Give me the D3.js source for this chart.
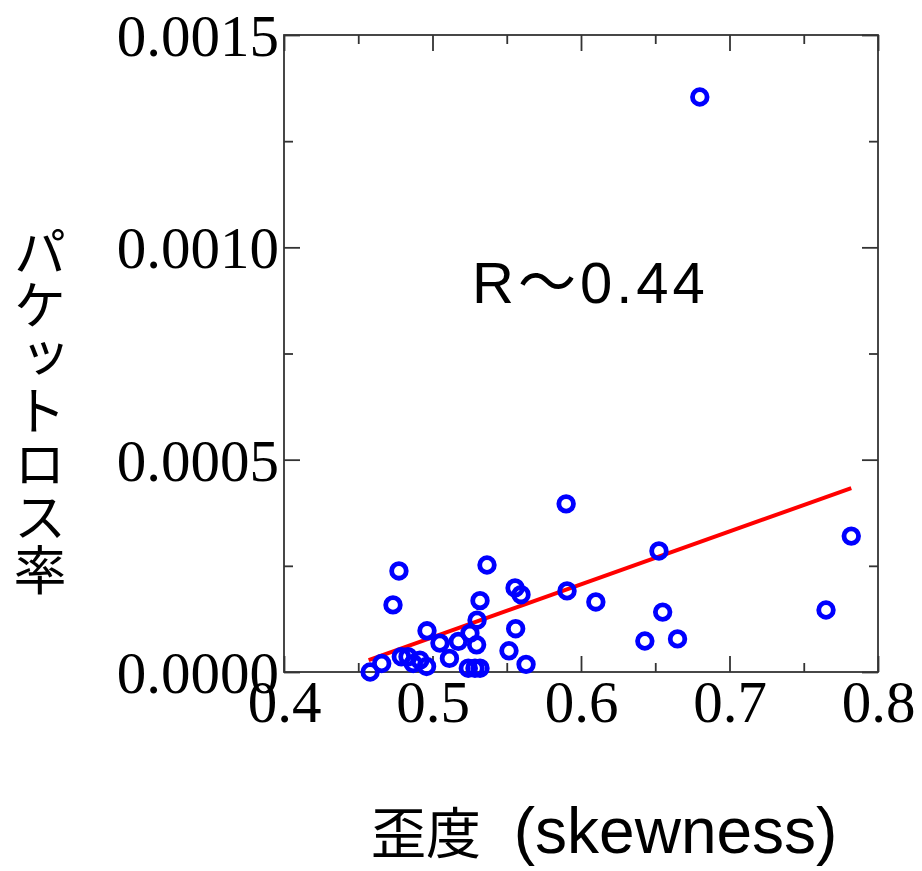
<!DOCTYPE html>
<html>
<head>
<meta charset="utf-8">
<script src="https://cdn.jsdelivr.net/npm/d3@7"></script>
<style>
  body { margin: 0; background: #fff; }
</style>
</head>
<body>
<div id="chart"></div>
<script>

// skewness vs packet loss
let skewX = [0.680, 0.590, 0.782, 0.6525, 0.4774, 0.5367, 0.5556, 0.5596, 0.5906, 0.4734,
             0.532, 0.610, 0.655, 0.765, 0.643, 0.665, 0.556, 0.4963, 0.5515, 0.563,
             0.458, 0.530, 0.5174, 0.5297, 0.5252, 0.505, 0.5114, 0.5241, 0.5286, 0.532,
             0.4658, 0.479, 0.4835, 0.487, 0.4915, 0.496]
let lossY = [0.001354, 0.000396, 0.000320, 0.000285, 0.000238, 0.000252, 0.000198, 0.000182, 0.000191, 0.000158,
             0.000168, 0.000165, 0.000141, 0.000146, 0.000073, 0.000078, 0.000102, 0.000097, 0.000050, 0.000018,
             0.000000, 0.000122, 0.000072, 0.000064, 0.000091, 0.000068, 0.000032, 0.000009, 0.000009, 0.000009,
             0.000020, 0.000036, 0.000036, 0.000020, 0.000028, 0.000013]

// fitted line ends
let trendX = [0.457, 0.782]
let trendY = [0.000028, 0.000433]

let xMajor = [0.4, 0.5, 0.6, 0.7, 0.8]
let xMinor = [0.45, 0.55, 0.65, 0.75]
let yMajor = [0, 0.0005, 0.0010, 0.0015]
let yMinor = [0.00025, 0.00075, 0.00125]

const rText = "R～0.44"
const xTitleJa = "歪度"
const xTitleEn = " (skewness)"
const yTitle = "パケットロス率"

const width = 922
const height = 871
const margin = {left: 284, right: 44, top: 35, bottom: 199}
const serif = '"Liberation Serif", "Times New Roman", serif'
const sans = '"Liberation Sans", Arial, "Noto Sans CJK JP", sans-serif'
const cjk = '"Noto Sans CJK JP", sans-serif'

let svg = d3.select("#chart").append("svg")
            .attr("width", width)
            .attr("height", height)

let x = d3.scaleLinear()
          .domain([0.4, 0.8])
          .range([margin.left, width - margin.right])

let y = d3.scaleLinear()
          .domain([0, 0.0015])
          .range([height - margin.bottom, margin.top])

let fmtX = d3.format(".1f")
let fmtY = d3.format(".4f")

function styleAxis(g){
  g.select(".domain").remove()
  g.selectAll(".tick line").attr("stroke", "#333").attr("stroke-width", 1.8)
}

// bottom
svg.append("g")
   .attr("transform", "translate(0," + y(0) + ")")
   .call(d3.axisBottom(x).tickValues(xMajor).tickSize(-16).tickFormat(fmtX))
   .call(styleAxis)
   .call(g => g.selectAll("text")
              .attr("y", 50).attr("dy", null)
              .attr("fill", "#000")
              .style("font-family", serif).style("font-size", "59px"))
svg.append("g")
   .attr("transform", "translate(0," + y(0) + ")")
   .call(d3.axisBottom(x).tickValues(xMinor).tickSize(-9).tickFormat(""))
   .call(styleAxis)

// top
svg.append("g")
   .attr("transform", "translate(0," + y(0.0015) + ")")
   .call(d3.axisTop(x).tickValues(xMajor).tickSize(-16).tickFormat(""))
   .call(styleAxis)
svg.append("g")
   .attr("transform", "translate(0," + y(0.0015) + ")")
   .call(d3.axisTop(x).tickValues(xMinor).tickSize(-9).tickFormat(""))
   .call(styleAxis)

// left
svg.append("g")
   .attr("transform", "translate(" + x(0.4) + ",0)")
   .call(d3.axisLeft(y).tickValues(yMajor).tickSize(-16).tickFormat(fmtY))
   .call(styleAxis)
   .call(g => g.selectAll("text")
              .attr("x", -5).attr("dy", "0.35em")
              .attr("fill", "#000")
              .style("font-family", serif).style("font-size", "59px"))
svg.append("g")
   .attr("transform", "translate(" + x(0.4) + ",0)")
   .call(d3.axisLeft(y).tickValues(yMinor).tickSize(-9).tickFormat(""))
   .call(styleAxis)

// right
svg.append("g")
   .attr("transform", "translate(" + x(0.8) + ",0)")
   .call(d3.axisRight(y).tickValues(yMajor).tickSize(-16).tickFormat(""))
   .call(styleAxis)
svg.append("g")
   .attr("transform", "translate(" + x(0.8) + ",0)")
   .call(d3.axisRight(y).tickValues(yMinor).tickSize(-9).tickFormat(""))
   .call(styleAxis)

// frame
svg.append("rect")
   .attr("x", x(0.4))
   .attr("y", y(0.0015))
   .attr("width", x(0.8) - x(0.4))
   .attr("height", y(0) - y(0.0015))
   .attr("fill", "none")
   .attr("stroke", "#333")
   .attr("stroke-width", 1.8)

// trend line
let line = d3.line()
             .x(d => x(d[0]))
             .y(d => y(d[1]))
svg.append("path")
   .datum(d3.zip(trendX, trendY))
   .attr("d", line)
   .attr("fill", "none")
   .attr("stroke", "#ff0000")
   .attr("stroke-width", 4)

// points
svg.append("g")
   .selectAll("circle")
   .data(d3.zip(skewX, lossY))
   .enter()
   .append("circle")
   .attr("cx", d => x(d[0]))
   .attr("cy", d => y(d[1]))
   .attr("r", 7.3)
   .attr("fill", "none")
   .attr("stroke", "#0000ff")
   .attr("stroke-width", 4.8)

// annotation
svg.append("text")
   .attr("x", 472)
   .attr("y", 303)
   .style("font-family", sans)
   .style("font-size", "58px")
   .style("letter-spacing", "4px")
   .text(rText)

// x title, latin part set larger
let xt = svg.append("text")
            .attr("x", 371)
            .attr("y", 853)
xt.append("tspan")
  .style("font-family", cjk)
  .style("font-size", "55px")
  .text(xTitleJa)
xt.append("tspan")
  .attr("dx", 15)
  .style("font-family", sans)
  .style("font-size", "64px")
  .text(xTitleEn)

// y title, set upright
svg.append("text")
   .attr("x", 40)
   .attr("y", 225)
   .style("font-family", cjk)
   .style("font-size", "53px")
   .style("writing-mode", "vertical-rl")
   .style("text-orientation", "upright")
   .text(yTitle)

</script>
</body>
</html>
